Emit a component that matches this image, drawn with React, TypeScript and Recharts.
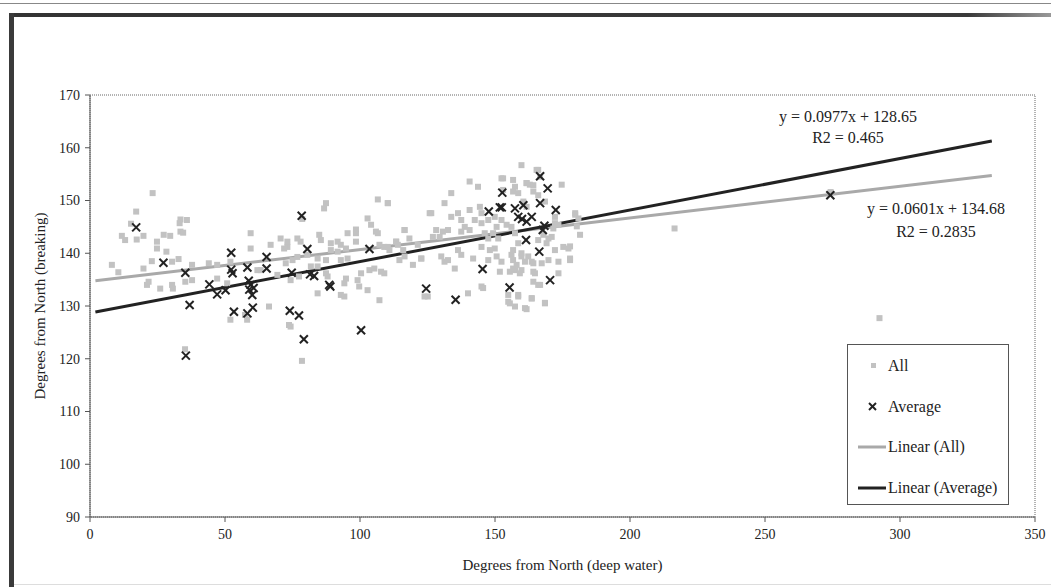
import { ScatterChart, Scatter, XAxis, YAxis, ReferenceLine, ReferenceArea, Legend } from 'recharts'

// [deep water, breaking] in degrees from north
const allPoints: [number, number][] = [
  [23.2, 151.4], [17.1, 147.9], [33.5, 146.4], [35.9, 146.3], [33.2, 145.7], [33.5, 144.1], [34.5, 143.9],
  [11.8, 143.3], [13, 142.5], [17.3, 142.6], [19.8, 143.3], [27.3, 143.5], [29.7, 143.3], [24.8, 142.2],
  [24.8, 140.9], [28.3, 140.3], [59.5, 143.8], [59.5, 140.9], [66.9, 141.6], [70.6, 142.8], [73.1, 141.2],
  [8.1, 137.8], [19.8, 137.1], [22.9, 138.5], [30.4, 138.4], [32.8, 138.9], [37.8, 137.8], [44, 138.1],
  [47.1, 137.8], [52, 138.4], [62, 136.8], [21.7, 134.6], [21.1, 134], [26, 133.3], [30.4, 134], [30.7, 133.3],
  [35.3, 134.6], [37.8, 134.9], [47.1, 135.2], [50.8, 134.3], [52, 127.4], [58.2, 127.4], [57.4, 128.3],
  [66.3, 129.9], [73.7, 126.4], [35.2, 121.8], [78.5, 119.6], [10.5, 136.4], [15.2, 145.6],
  [87.4, 149.5], [86.7, 148.5], [106.6, 150.2], [110.3, 149.5], [125.8, 147.6], [102.8, 146.6], [104.1, 145.4],
  [105.9, 144.1], [106.6, 143.8], [98.5, 144.5], [98.5, 143.8], [95.4, 143.8], [116.5, 144.4], [118.3, 142.8],
  [76.8, 142.8], [78, 142.2], [84.9, 143.5], [85.5, 142.5], [73.1, 142.2], [71.9, 140.9], [89.2, 141.9],
  [91.7, 142.2], [92.9, 141.6], [89.2, 140.6], [91.7, 140.3], [94.8, 140.9], [98.5, 142.2], [107.2, 141.6],
  [110.3, 141.2], [113.4, 142.2], [116, 140.6], [121.4, 141.6], [76.8, 139.3], [80.5, 139.7], [84.3, 139],
  [87.4, 138.7], [92.9, 138.7], [95.4, 139], [72.5, 138.1], [75, 138.7], [81.8, 137.5], [84.3, 137.5],
  [63.2, 136.8], [69.4, 135.9], [87.4, 136.2], [88, 135.6], [94.8, 135.2], [94.2, 134.3], [99.1, 134.9],
  [99.7, 133.7], [100.4, 136.2], [103.5, 136.8], [105.3, 137.1], [109, 136.2], [114.6, 138.7], [119.6, 137.8],
  [122.7, 139], [102.8, 133], [107.2, 131.1], [92.9, 132.1], [94.2, 131.8], [84.3, 132.4], [74.3, 126.1],
  [125.1, 131.8], [74.3, 134.9], [77.4, 135.6], [78.6, 146.5],
  [166, 155.8], [166.7, 154.5], [174.7, 153], [161.7, 153.3], [162.9, 153], [157.4, 152.6], [164.2, 151.7],
  [166, 151], [140.6, 153.6], [143.7, 152.6], [152.4, 154.2], [133.8, 151.4], [131.3, 149.5], [126.4, 147.6],
  [110.3, 149.5], [136.3, 147.6], [133.8, 146.9], [137.5, 146.3], [140.6, 148.2], [144.4, 148.8], [145, 147.6],
  [142.5, 146.3], [145, 145.7], [147.5, 146.3], [149.9, 146.9], [152.4, 146.3], [154.3, 145.4], [150.6, 145],
  [138.8, 145], [137.5, 144.1], [140.6, 144.4], [132.6, 144.4], [130.7, 144.1], [128.2, 144.4], [129.5, 143.1],
  [127, 143.1], [116.5, 144.4], [113.4, 142.2], [114, 141.6], [109, 141.2], [110.9, 140.6], [107.8, 136.5],
  [116.5, 139.4], [122.7, 139], [146.2, 143.8], [147.5, 142.8], [149.3, 143.8], [151.2, 142.8],
  [156.1, 145], [157.4, 143.8], [158.6, 141.9], [156.7, 140.6], [145, 141.2], [148.1, 140.6], [149.9, 140.9],
  [147.5, 138.7], [150.6, 139.4], [152.4, 138.4], [136.3, 140.6], [137.5, 139.7], [130.1, 139.4], [132.6, 138.7],
  [135.1, 137.1], [141.9, 139], [156.7, 138.7], [158, 137.8], [159.8, 140], [162.3, 139.4], [163.6, 138.4],
  [166, 142.5], [169.1, 141.9], [171, 143.1], [172.2, 140.6], [175.3, 141.2], [171.6, 144.7], [173.5, 145.4],
  [167.3, 138.1], [169.8, 138.7], [173.5, 138.4], [177.8, 138.7], [177.2, 140.9], [179.7, 147.6], [180.9, 146.6],
  [159.8, 136.8], [164.2, 136.5], [155.5, 136.5], [157.4, 136.8], [164.2, 134.6], [151.8, 136.5], [145, 133.7],
  [131.3, 138.4], [123.9, 131.8], [140, 132.4], [145.6, 133.4], [154.9, 132.1], [158.6, 131.8], [155.5, 130.5],
  [157.4, 129.9], [161.1, 129.6], [168.5, 130.5], [163.6, 131.4], [166.7, 134], [173.5, 136.2],
  [159.8, 156.7], [165.4, 155.8], [156.7, 153.9], [156.7, 151.7], [161.7, 153.3], [164.2, 152.9], [158.6, 151.4],
  [160.5, 149.8], [161.7, 148.8], [168.5, 149.8], [172.2, 146.9], [172.2, 145.7], [179.7, 147.3], [180.3, 145.1],
  [181.5, 143.5], [177.8, 141.3], [177.8, 139], [167.9, 143.5], [169.8, 142.8], [164.2, 138.1], [164.8, 136.2],
  [159.8, 139.4], [161.1, 138.4], [156.7, 137.1], [159.2, 136.2], [156.1, 139.7], [166, 134], [158.6, 132.1],
  [154.9, 130.8], [161.7, 129.4], [168.5, 130.6], [163.6, 131.5], [153, 154.2], [153, 152],
  [216.5, 144.7], [274.3, 151.6], [292.4, 127.7],
]

const averagePoints: [number, number][] = [
  [17.1, 144.9], [27.2, 138.2], [35.3, 136.3], [35.5, 120.6], [36.9, 130.2], [44.2, 134.1], [47.1, 132.2],
  [50.2, 133.0], [52.3, 140.1], [52.3, 136.9], [52.8, 136.2], [53.3, 128.9], [58.3, 137.3], [58.8, 134.8],
  [59.5, 134.0], [60.6, 133.4], [59.0, 133.1], [60.1, 132.1], [58.3, 128.6], [60.3, 129.7], [65.4, 139.3],
  [65.4, 137.1], [74.0, 129.1], [77.4, 128.2], [74.7, 136.3], [78.4, 147.1], [79.2, 123.7], [80.5, 140.8],
  [81.5, 136.0], [83.0, 135.7], [88.6, 134.0], [89.0, 133.7], [100.4, 125.4], [103.5, 140.8], [124.5, 133.3],
  [135.4, 131.2], [145.4, 137.0], [147.7, 147.9], [151.8, 148.7], [152.5, 148.7], [152.7, 151.5], [155.4, 133.5],
  [157.4, 148.5], [158.6, 146.9], [160.0, 146.5], [160.5, 149.1], [161.7, 146.0], [161.5, 142.5], [163.6, 146.9],
  [166.4, 140.3], [166.7, 149.5], [166.7, 154.6], [167.7, 144.4], [168.3, 145.2], [169.5, 152.3], [170.4, 134.9],
  [172.5, 148.2], [274.2, 151.0],
]

const xTicks = [0, 50, 100, 150, 200, 250, 300, 350]
const yTicks = [90, 100, 110, 120, 130, 140, 150, 160, 170]

const fitAll = { slope: 0.0601, intercept: 134.68, r2: '0.2835' }
const fitAverage = { slope: 0.0977, intercept: 128.65, r2: '0.465' }
const fitRange = [2, 334]

const allData = allPoints.map(([x, y]) => ({ x, y }))
const averageData = averagePoints.map(([x, y]) => ({ x, y }))

const fitSegment = (fit: { slope: number; intercept: number }) =>
  fitRange.map((x) => ({ x, y: fit.intercept + fit.slope * x }))

const FONT = '"Liberation Serif", "Times New Roman", serif'
const GREY_PT = '#c2c2c2'
const DARK = '#222'
const GREY_LINE = '#a9a9a9'

const Square = (props: any) => (
  <rect x={props.cx - 3} y={props.cy - 3} width={6} height={6} fill={GREY_PT} />
)

const Cross = (props: any) => (
  <g stroke={DARK} strokeWidth={2}>
    <line x1={props.cx - 4} y1={props.cy - 4} x2={props.cx + 4} y2={props.cy + 4} />
    <line x1={props.cx - 4} y1={props.cy + 4} x2={props.cx + 4} y2={props.cy - 4} />
  </g>
)

const legendItems = [
  { name: 'All', kind: 'square' },
  { name: 'Average', kind: 'cross' },
  { name: 'Linear (All)', kind: 'greyLine' },
  { name: 'Linear (Average)', kind: 'darkLine' },
]

function LegendBox() {
  return (
    <div
      style={{
        width: 162,
        height: 161,
        border: '1px solid #555',
        background: '#fff',
        boxSizing: 'border-box',
        position: 'relative',
        fontFamily: FONT,
        fontSize: 16,
        color: DARK,
      }}
    >
      {legendItems.map((item, i) => (
        <div key={item.name} style={{ position: 'absolute', left: 0, top: 21 + i * 40.5 - 11, height: 22, width: '100%' }}>
          <svg width={40} height={22} style={{ position: 'absolute', left: 8, top: 0 }}>
            {item.kind === 'square' && <rect x={15} y={8} width={5} height={5} fill={GREY_PT} />}
            {item.kind === 'cross' && (
              <g stroke={DARK} strokeWidth={2}>
                <line x1={13} y1={7} x2={20} y2={14} />
                <line x1={13} y1={14} x2={20} y2={7} />
              </g>
            )}
            {item.kind === 'greyLine' && <line x1={2} y1={11} x2={30} y2={11} stroke={GREY_LINE} strokeWidth={3} />}
            {item.kind === 'darkLine' && <line x1={2} y1={11} x2={30} y2={11} stroke={DARK} strokeWidth={3} />}
          </svg>
          <span style={{ position: 'absolute', left: 40, top: 0, lineHeight: '22px', whiteSpace: 'nowrap' }}>{item.name}</span>
        </div>
      ))}
    </div>
  )
}

export default function App() {
  const tickStyle = { fontSize: 14, fill: DARK, fontFamily: FONT }
  return (
    <div style={{ position: 'absolute', left: 0, top: 0, width: 1051, height: 587, background: '#fff', overflow: 'hidden' }}>
      <div style={{ position: 'absolute', left: 0, top: 3, width: 1051, height: 1, background: '#888' }} />
      <div style={{ position: 'absolute', left: 9, top: 13, width: 1042, height: 4, background: 'linear-gradient(to right, #333 0%, #3a3a3a 92%, #999 100%)' }} />
      <div style={{ position: 'absolute', left: 9, top: 13, width: 5, height: 574, background: '#3a3a3a' }} />
      <div style={{ position: 'absolute', left: 14, top: 584, width: 1037, height: 1, background: '#ddd' }} />

      <ScatterChart width={1051} height={587} margin={{ top: 95, right: 16, bottom: 40, left: 40 }} style={{ position: 'absolute', left: 0, top: 0 }}>
        <XAxis
          type="number"
          dataKey="x"
          domain={[0, 350]}
          ticks={xTicks}
          height={30}
          tick={tickStyle}
          tickSize={5}
          tickMargin={7}
          stroke="#555"
          label={{ value: 'Degrees from North (deep water)', position: 'bottom', offset: 12, style: { fontSize: 15, fill: DARK, fontFamily: FONT } }}
        />
        <YAxis
          type="number"
          dataKey="y"
          domain={[90, 170]}
          ticks={yTicks}
          width={50}
          tick={tickStyle}
          tickSize={5}
          tickMargin={5}
          stroke="#555"
          label={{ value: 'Degrees from North (breaking)', angle: -90, position: 'insideLeft', offset: 0, style: { fontSize: 15, fill: DARK, fontFamily: FONT, textAnchor: 'middle' } }}
        />
        <ReferenceArea x1={0} x2={350} y1={90} y2={170} fill="none" stroke="#666" strokeDasharray="1 1" />
        <Scatter name="All" data={allData} shape={Square} isAnimationActive={false} />
        <Scatter name="Average" data={averageData} shape={Cross} isAnimationActive={false} />
        <ReferenceLine segment={fitSegment(fitAll)} stroke={GREY_LINE} strokeWidth={3} />
        <ReferenceLine segment={fitSegment(fitAverage)} stroke={DARK} strokeWidth={3} />
        <Legend
          layout="vertical"
          align="center"
          verticalAlign="middle"
          content={() => <LegendBox />}
          wrapperStyle={{ position: 'absolute', left: 847, top: 344, width: 162, height: 161 }}
        />
      </ScatterChart>

      <div style={{ position: 'absolute', left: 748, top: 106, width: 200, textAlign: 'center', fontFamily: FONT, fontSize: 16, lineHeight: '21px', color: DARK }}>
        <div>{`y = ${fitAverage.slope}x + ${fitAverage.intercept}`}</div>
        <div>{`R2 = ${fitAverage.r2}`}</div>
      </div>
      <div style={{ position: 'absolute', left: 836, top: 197, width: 200, textAlign: 'center', fontFamily: FONT, fontSize: 16, lineHeight: '23px', color: DARK }}>
        <div>{`y = ${fitAll.slope}x + ${fitAll.intercept}`}</div>
        <div>{`R2 = ${fitAll.r2}`}</div>
      </div>
    </div>
  )
}
